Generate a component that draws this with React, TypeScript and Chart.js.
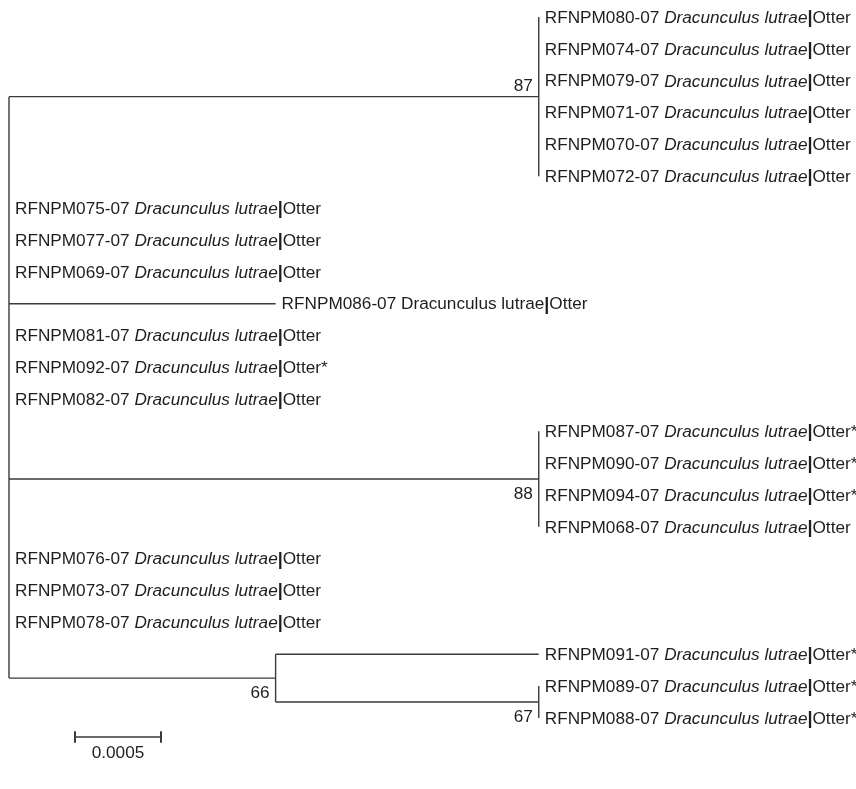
import React, { useEffect, useRef } from "react";
import { Chart, registerables } from "chart.js";

Chart.register(...registerables);

// ---- data ----
const taxa = [
  "RFNPM080-07", "RFNPM074-07", "RFNPM079-07", "RFNPM071-07", "RFNPM070-07", "RFNPM072-07",
  "RFNPM075-07", "RFNPM077-07", "RFNPM069-07", "RFNPM086-07", "RFNPM081-07", "RFNPM092-07",
  "RFNPM082-07", "RFNPM087-07", "RFNPM090-07", "RFNPM094-07", "RFNPM068-07", "RFNPM076-07",
  "RFNPM073-07", "RFNPM078-07", "RFNPM091-07", "RFNPM089-07", "RFNPM088-07",
];
const species = "Dracunculus lutrae";
const hosts = [
  "Otter", "Otter", "Otter", "Otter", "Otter", "Otter",
  "Otter", "Otter", "Otter", "Otter", "Otter", "Otter*",
  "Otter", "Otter*", "Otter*", "Otter*", "Otter", "Otter",
  "Otter", "Otter", "Otter*", "Otter*", "Otter*",
];
const plainSpecies = [9]; // leaf whose species name is not italic
// parent internal node of each leaf (0 = root, 1 = clade87, 2 = clade88, 3 = clade66, 4 = clade67)
const leafParent = [1, 1, 1, 1, 1, 1, 0, 0, 0, 0, 0, 0, 0, 2, 2, 2, 2, 0, 0, 0, 3, 4, 4];
const leafBranch = [
  0, 0, 0, 0, 0, 0, 0, 0, 0, 0.00155, 0, 0, 0, 0, 0, 0, 0, 0, 0, 0, 0.00153, 0, 0,
];
const nodeParent = [-1, 0, 0, 0, 3];
const nodeBranch = [0, 0.00308, 0.00308, 0.00155, 0.00153];
const nodeSupport = [null, 87, 88, 66, 67];
const supportAbove = [false, true, false, false, false];
const scaleBarLength = 0.0005;
const scaleBarLabel = "0.0005";

// ---- layout helpers (not data) ----
const W = 856;
const H = 789;
const PX_PER_UNIT = 172000;
const X0 = 9;
const ROW0 = 17;
const ROW_H = 31.86;
const FONT = '"Liberation Sans", Arial, Helvetica, sans-serif';
const FS = 17.2;
const LINE = "#3a3a3a";

function buildTree() {
  const nN = nodeParent.length;
  const nodeX: number[] = new Array(nN).fill(0);
  for (let i = 1; i < nN; i++) nodeX[i] = nodeX[nodeParent[i]] + nodeBranch[i];
  const leafX = taxa.map((_, i) => nodeX[leafParent[i]] + leafBranch[i]);
  const leafY = taxa.map((_, i) => i);
  const nodeY: number[] = new Array(nN).fill(0);
  const nodeMin: number[] = new Array(nN).fill(0);
  const nodeMax: number[] = new Array(nN).fill(0);
  const depth = (n: number): number => (nodeParent[n] < 0 ? 0 : 1 + depth(nodeParent[n]));
  const order = [...Array(nN).keys()].sort((a, b) => depth(b) - depth(a));
  for (const n of order) {
    const ys: number[] = [];
    taxa.forEach((_, i) => { if (leafParent[i] === n) ys.push(leafY[i]); });
    for (let m = 0; m < nN; m++) if (nodeParent[m] === n) ys.push(nodeY[m]);
    nodeMin[n] = Math.min(...ys);
    nodeMax[n] = Math.max(...ys);
    nodeY[n] = (nodeMin[n] + nodeMax[n]) / 2;
  }
  return { nodeX, nodeY, nodeMin, nodeMax, leafX, leafY };
}

export default function App() {
  const ref = useRef<HTMLCanvasElement | null>(null);

  useEffect(() => {
    if (!ref.current) return;
    const t = buildTree();
    const segs: { x: number; y: number }[][] = [];
    nodeParent.forEach((_, n) => {
      segs.push([{ x: t.nodeX[n], y: t.nodeMin[n] }, { x: t.nodeX[n], y: t.nodeMax[n] }]);
    });
    nodeParent.forEach((p, n) => {
      if (p < 0) return;
      segs.push([{ x: t.nodeX[p], y: t.nodeY[n] }, { x: t.nodeX[n], y: t.nodeY[n] }]);
    });
    taxa.forEach((_, i) => {
      if (leafBranch[i] > 0) {
        const px = t.nodeX[leafParent[i]];
        segs.push([{ x: px, y: t.leafY[i] }, { x: t.leafX[i], y: t.leafY[i] }]);
      }
    });

    const sbX = (75 - X0) / PX_PER_UNIT;
    const sbY = (737 - ROW0) / ROW_H;
    const cap = 0.18;

    const datasets: any[] = segs.map((s) => ({
      data: s,
      showLine: true,
      borderColor: LINE,
      borderWidth: 1.4,
      pointRadius: 0,
      fill: false,
    }));
    datasets.push({
      data: [{ x: sbX, y: sbY }, { x: sbX + scaleBarLength, y: sbY }],
      showLine: true, borderColor: LINE, borderWidth: 1.4, pointRadius: 0,
    });
    [sbX, sbX + scaleBarLength].forEach((x) =>
      datasets.push({
        data: [{ x, y: sbY - cap }, { x, y: sbY + cap }],
        showLine: true, borderColor: LINE, borderWidth: 2, pointRadius: 0,
      })
    );

    const labelPlugin = {
      id: "treeLabels",
      afterDatasetsDraw(chart: any) {
        const ctx = chart.ctx as CanvasRenderingContext2D;
        const xs = chart.scales.x;
        const ys = chart.scales.y;
        ctx.save();
        ctx.fillStyle = "#1e1e1e";
        ctx.textBaseline = "middle";
        ctx.textAlign = "left";
        taxa.forEach((id, i) => {
          let x = xs.getPixelForValue(t.leafX[i]) + 6;
          const y = ys.getPixelForValue(t.leafY[i]) + 1;
          const parts: [string, string][] = [
            [id + " ", `${FS}px ${FONT}`],
            [species, plainSpecies.includes(i) ? `${FS}px ${FONT}` : `italic ${FS}px ${FONT}`],
            ["|", `bold 18px ${FONT}`],
            [hosts[i], `${FS}px ${FONT}`],
          ];
          parts.forEach(([s, f]) => {
            ctx.font = f;
            ctx.fillText(s, x, y);
            x += ctx.measureText(s).width;
          });
        });
        ctx.font = `${FS}px ${FONT}`;
        ctx.textAlign = "right";
        nodeSupport.forEach((v, n) => {
          if (v == null) return;
          const x = xs.getPixelForValue(t.nodeX[n]) - 6;
          const y = ys.getPixelForValue(t.nodeY[n]) + (supportAbove[n] ? -10 : 15);
          ctx.fillText(String(v), x, y);
        });
        ctx.textAlign = "center";
        ctx.fillText(
          scaleBarLabel,
          xs.getPixelForValue(sbX + scaleBarLength / 2),
          ys.getPixelForValue(sbY) + 16
        );
        ctx.restore();
      },
    };

    const chart = new Chart(ref.current, {
      type: "scatter",
      data: { datasets },
      options: {
        animation: false,
        responsive: false,
        events: [],
        layout: { padding: 0 },
        plugins: { legend: { display: false }, tooltip: { enabled: false } },
        scales: {
          x: { type: "linear", display: false, min: -X0 / PX_PER_UNIT, max: (W - X0) / PX_PER_UNIT },
          y: {
            type: "linear", display: false, reverse: true,
            min: -ROW0 / ROW_H, max: (H - ROW0) / ROW_H,
          },
        },
      },
      plugins: [labelPlugin],
    });
    return () => chart.destroy();
  }, []);

  return (
    <div style={{ position: "absolute", left: 0, top: 0, width: W, height: H, background: "#fff" }}>
      <canvas ref={ref} width={W} height={H} style={{ display: "block" }} />
    </div>
  );
}
